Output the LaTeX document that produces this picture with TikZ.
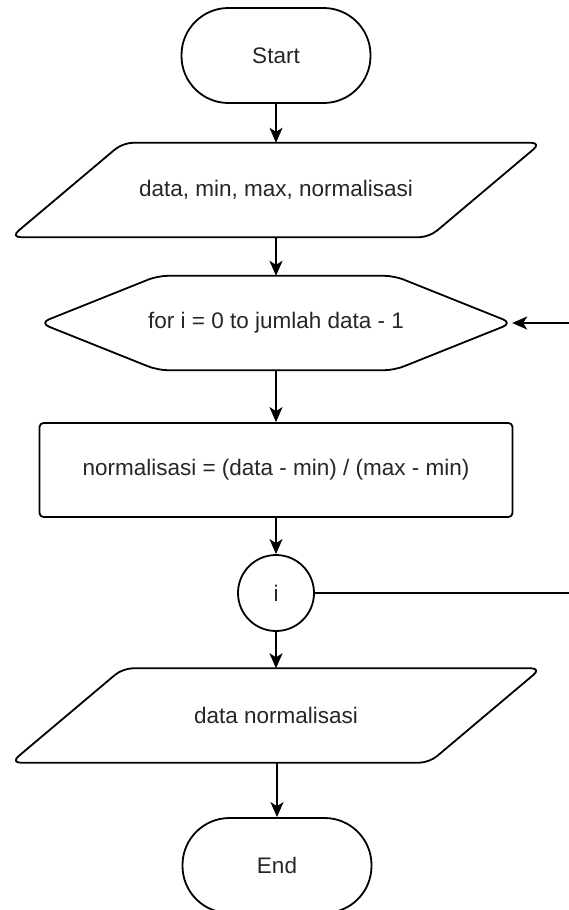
\documentclass[tikz,border=0pt]{standalone}
\usepackage{fontspec}
\setmainfont{Liberation Sans}
\usetikzlibrary{arrows.meta,calc}
\definecolor{ink}{HTML}{262626}
\begin{document}
\begin{tikzpicture}[x=1pt,y=-1pt,
  outline/.style={draw=black, line width=1.8pt},
  flow/.style={draw=black, line width=1.8pt,
    -{Stealth[length=15pt,width=13pt,inset=4pt]}},
  label/.style={font=\fontsize{22.5}{27}\selectfont, text=ink, inner sep=0pt},
  terminal/.style={label, outline, rounded corners=47pt,
    minimum width=189pt, minimum height=95pt},
  iobox/.style={label, minimum width=530pt, minimum height=94pt},
  prepbox/.style={label, minimum width=472pt, minimum height=94pt},
  procbox/.style={label, outline, rounded corners=4pt,
    minimum width=473pt, minimum height=94pt},
  joint/.style={label, outline, circle, minimum size=76pt}
]
% canvas
\fill[white] (0,0) rectangle (568,910);
\useasboundingbox (0,0) rectangle (568,910);

% nodes
\node[terminal] (start) at (276,55.5) {Start};
\node[iobox] (inp) at (276,190) {data, min, max, normalisasi};
\node[prepbox] (loop) at (276,323) {for i = 0 to jumlah data - 1};
\node[procbox] (calc) at (276,470) {normalisasi = (data - min) / (max - min)};
\node[joint] (iter) at (276,593) {i};
\node[iobox] (out) at (276,715.5) {data normalisasi};
\node[terminal] (stop) at (277,865.5) {End};

% parallelogram outlines
\foreach \n in {inp,out}{
  \draw[outline, rounded corners=10pt]
    ($(\n.north west)+(112,0)$) -- (\n.north east)
    -- ($(\n.south east)-(112,0)$) -- (\n.south west) -- cycle;
}
% hexagon outline
\draw[outline, rounded corners=10pt]
  (loop.west) -- ($(loop.north west)+(118,0)$) -- ($(loop.north east)-(118,0)$)
  -- (loop.east) -- ($(loop.south east)-(118,0)$) -- ($(loop.south west)+(118,0)$)
  -- cycle;

% connectors
\draw[flow] (start) -- (inp);
\draw[flow] (inp) -- (loop);
\draw[flow] (loop) -- (calc);
\draw[flow] (calc) -- (iter);
\draw[flow] (iter) -- (out);
\draw[flow] (out.south) -- (out.south -| stop.north) -- (stop.north);

% loop-back path, running past the right edge
\coordinate (backA) at (592,593);
\coordinate (backB) at (592,323);
\draw[flow] (iter.east) -- (backA) -- (backB) -- (loop.east);
\end{tikzpicture}
\end{document}
